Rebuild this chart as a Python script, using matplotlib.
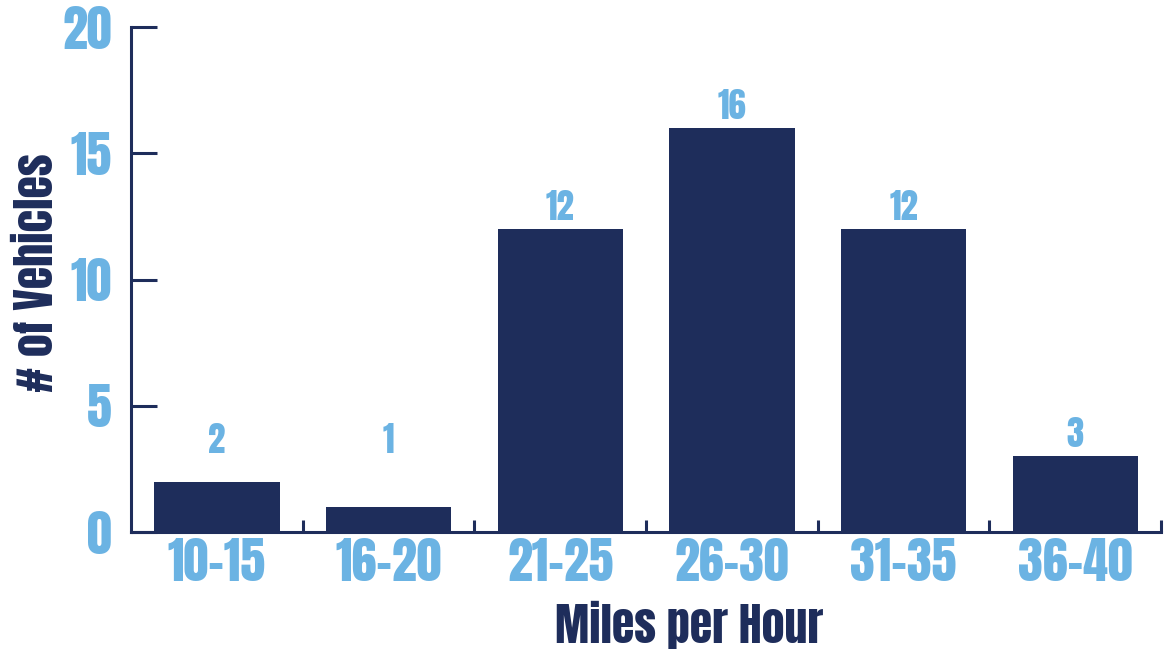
import numpy as np
import matplotlib.pyplot as plt
from matplotlib.ticker import FixedLocator

# data
speed_bins = ['10-15', '16-20', '21-25', '26-30', '31-35', '36-40']
vehicles = [2, 1, 12, 16, 12, 3]
y_ticks = [0, 5, 10, 15, 20]

navy = '#1E2D5B'
light_blue = '#6BB3E3'
fonts = ['Anton', 'Oswald', 'Barlow Condensed', 'DejaVu Sans']

fig = plt.figure(figsize=(11.67, 6.56), dpi=100)
ax = fig.add_axes([0.1123, 0.189, 0.8827, 0.7698])

x = np.arange(len(speed_bins))
bars = ax.bar(x, vehicles, width=0.73, color=navy, zorder=2)

# value labels above bars (short bars get their label lifted a bit)
for xi, v in zip(x, vehicles):
    ax.text(xi, max(v, 2.75) + 0.37, str(v), ha='center', va='baseline',
            color=light_blue, fontsize=25, family=fonts)

ax.set_xlim(-0.5, len(speed_bins) - 0.5)
ax.set_ylim(0, 20)

for side in ['top', 'right']:
    ax.spines[side].set_visible(False)
for side in ['left', 'bottom']:
    ax.spines[side].set_color(navy)
    ax.spines[side].set_linewidth(2.2)

ax.set_yticks(y_ticks)
ax.tick_params(axis='y', direction='in', length=19, width=2.2, color=navy,
               pad=14, labelcolor=light_blue)
ax.set_xticks(x)
ax.set_xticklabels(speed_bins)
ax.tick_params(axis='x', which='major', length=0, pad=4, labelcolor=light_blue)
ax.xaxis.set_minor_locator(FixedLocator(np.arange(0.5, len(speed_bins), 1)))
ax.tick_params(axis='x', which='minor', direction='in', length=8.5, width=2.2, color=navy)

for lab in ax.get_xticklabels() + ax.get_yticklabels():
    lab.set_fontsize(36)
    lab.set_family(fonts)

ax.set_xlabel('Miles per Hour', fontsize=33, color=navy, family=fonts, va='baseline')
ax.set_ylabel('# of Vehicles', fontsize=33, color=navy, family=fonts, va='baseline')
ax.xaxis.set_label_coords(0.542, -0.22)
ax.yaxis.set_label_coords(-0.0757, 0.513)

fig.savefig('out.png', dpi=100)
